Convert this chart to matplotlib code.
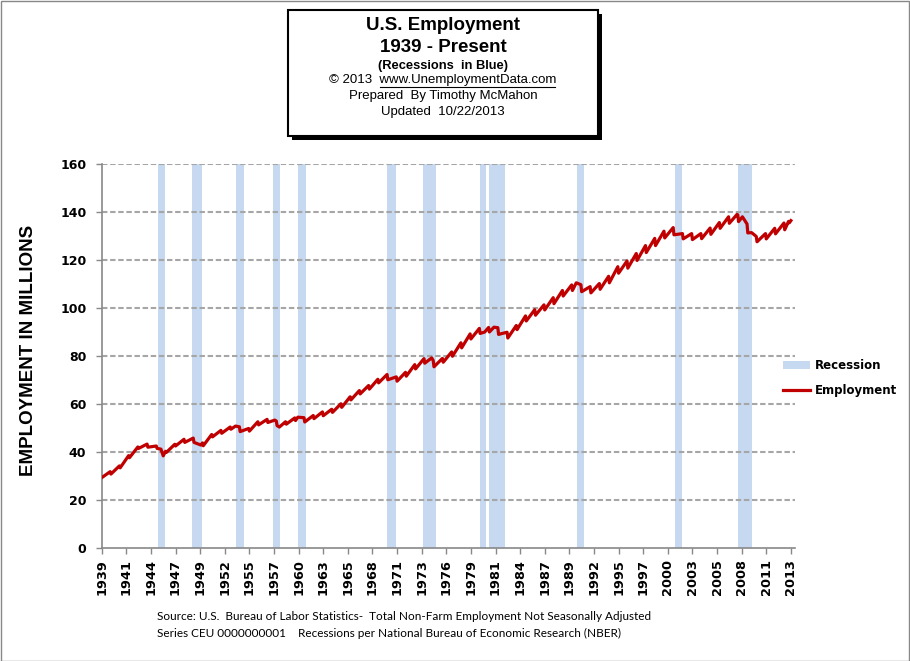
import matplotlib.pyplot as plt
from matplotlib.patches import Patch, Rectangle
from matplotlib.lines import Line2D

# Total non-farm employment, millions (not seasonally adjusted)
emp_months = [
    '1939-01', '1939-12', '1940-01', '1940-12', '1941-01', '1941-12', '1942-01', '1942-12',
    '1943-01', '1943-12', '1944-01', '1944-12', '1945-01', '1945-06', '1945-09', '1945-12',
    '1946-01', '1946-12', '1947-01', '1947-12', '1948-01', '1948-12', '1949-01', '1949-10',
    '1949-12', '1950-01', '1950-12', '1951-01', '1951-12', '1952-01', '1952-12', '1953-01',
    '1953-07', '1953-12', '1954-01', '1954-12', '1955-01', '1955-12', '1956-01', '1956-12',
    '1957-01', '1957-10', '1957-12', '1958-01', '1958-04', '1958-12', '1959-01', '1959-12',
    '1960-01', '1960-04', '1960-12', '1961-01', '1961-12', '1962-01', '1962-12', '1963-01',
    '1963-12', '1964-01', '1964-12', '1965-01', '1965-12', '1966-01', '1966-12', '1967-01',
    '1967-12', '1968-01', '1968-12', '1969-01', '1969-12', '1970-01', '1970-12', '1971-01',
    '1971-12', '1972-01', '1972-12', '1973-01', '1973-12', '1974-01', '1974-10', '1974-12',
    '1975-01', '1975-12', '1976-01', '1976-12', '1977-01', '1977-12', '1978-01', '1978-12',
    '1979-01', '1979-12', '1980-01', '1980-07', '1980-12', '1981-01', '1981-07', '1981-12',
    '1982-01', '1982-12', '1983-01', '1983-12', '1984-01', '1984-12', '1985-01', '1985-12',
    '1986-01', '1986-12', '1987-01', '1987-12', '1988-01', '1988-12', '1989-01', '1989-12',
    '1990-01', '1990-06', '1990-12', '1991-01', '1991-12', '1992-01', '1992-12', '1993-01',
    '1993-12', '1994-01', '1994-12', '1995-01', '1995-12', '1996-01', '1996-12', '1997-01',
    '1997-12', '1998-01', '1998-12', '1999-01', '1999-12', '2000-01', '2000-12', '2001-01',
    '2001-12', '2002-01', '2002-12', '2003-01', '2003-12', '2004-01', '2004-12', '2005-01',
    '2005-12', '2006-01', '2006-12', '2007-01', '2007-11', '2007-12', '2008-01', '2008-06',
    '2008-12', '2009-01', '2009-06', '2009-12', '2010-01', '2010-12', '2011-01', '2011-12',
    '2012-01', '2012-12', '2013-01', '2013-06', '2013-07', '2013-09',
]
emp_values = [
    29.3, 31.8, 30.8, 34.2, 33.4, 38.5, 37.6, 42.1,
    41.5, 43.3, 42.0, 42.5, 41.5, 41.2, 38.4, 40.3,
    39.8, 43.2, 42.5, 45.3, 44.0, 45.8, 44.0, 42.9,
    43.8, 42.6, 47.3, 46.3, 49.0, 47.8, 50.4, 49.5,
    50.8, 50.5, 48.5, 49.8, 48.7, 52.6, 51.3, 53.6,
    52.3, 53.3, 52.9, 51.0, 50.4, 52.6, 51.6, 54.2,
    53.1, 54.5, 54.3, 52.5, 55.2, 53.9, 56.7, 55.1,
    57.8, 56.5, 60.1, 58.6, 63.0, 61.7, 65.6, 64.2,
    67.7, 66.2, 70.3, 68.8, 72.3, 70.1, 71.3, 69.5,
    73.2, 71.6, 76.4, 74.6, 78.9, 77.0, 79.2, 78.1,
    75.5, 79.0, 77.4, 81.7, 79.9, 85.5, 83.4, 89.2,
    87.1, 91.5, 89.4, 90.0, 91.9, 90.0, 92.0, 91.8,
    89.0, 89.9, 87.5, 92.7, 91.0, 96.7, 94.6, 99.3,
    97.0, 101.3, 99.2, 104.3, 101.8, 107.3, 105.0, 109.6,
    107.3, 110.5, 109.7, 106.8, 108.9, 106.3, 110.2, 107.8,
    113.2, 110.5, 117.2, 114.5, 119.6, 116.6, 122.7, 119.8,
    126.0, 123.1, 129.0, 126.0, 132.0, 129.2, 133.5, 130.5,
    131.0, 128.8, 131.0, 128.5, 131.0, 128.9, 133.3, 130.7,
    135.6, 133.2, 138.0, 135.3, 139.0, 138.8, 136.0, 138.0,
    135.0, 131.3, 131.4, 129.8, 127.6, 131.0, 128.8, 133.2,
    130.9, 135.4, 132.6, 136.1, 135.5, 136.4,
]

# NBER recessions as drawn on the chart
rec_starts = ['1945-02', '1948-11', '1953-07', '1957-08', '1960-04', '1969-12',
              '1973-11', '1980-01', '1981-01', '1990-07', '2001-03', '2007-12']
rec_ends = ['1945-10', '1949-10', '1954-05', '1958-04', '1961-02', '1970-11',
            '1975-03', '1980-07', '1982-08', '1991-03', '2001-11', '2009-06']

x_tick_labels = ['1939', '1941', '1944', '1947', '1949', '1952', '1955', '1957', '1960',
                 '1963', '1965', '1968', '1971', '1973', '1976', '1979', '1981', '1984',
                 '1987', '1989', '1992', '1995', '1997', '2000', '2003', '2005', '2008',
                 '2011', '2013']
y_ticks = [0, 20, 40, 60, 80, 100, 120, 140, 160]

RED = '#C00000'
BLUE = '#C6D9F0'
GREY = '#888888'


def to_year(s, end=False):
    y, m = s.split('-')
    return int(y) + (int(m) - 1 + (1 if end else 0)) / 12.0


fig = plt.figure(figsize=(9.1, 6.61), dpi=100)
ax = fig.add_axes([101.7 / 910, 113 / 661, 693.3 / 910, 384 / 661])

for s, e in zip(rec_starts, rec_ends):
    ax.axvspan(to_year(s), to_year(e, end=True), color=BLUE, lw=0, zorder=1)

xs = [to_year(m) for m in emp_months]
ax.plot(xs, emp_values, color=RED, lw=2.3, zorder=3, solid_joinstyle='round')

ax.set_ylim(0, 160)
ax.set_xlim(1939, 1939 + 693.3 / 9.23)
ax.set_yticks(y_ticks)
ax.set_yticklabels([str(v) for v in y_ticks])
# Excel category axis: a tick every 32 months
ax.set_xticks([1939 + k * 32 / 12 for k in range(len(x_tick_labels))])
ax.set_xticklabels(x_tick_labels, rotation=90)

for v in y_ticks[1:]:
    ax.axhline(v, color='#A6A6A6', lw=1.5, linestyle=(0, (2.6, 1.3)), zorder=2)

for side in ['top', 'right']:
    ax.spines[side].set_visible(False)
for side in ['left', 'bottom']:
    ax.spines[side].set_color(GREY)
    ax.spines[side].set_linewidth(1.2)

ax.tick_params(axis='y', direction='out', length=4, width=1, color=GREY, pad=7,
               labelsize=9)
ax.tick_params(axis='x', direction='out', length=4, width=1, color=GREY, pad=4,
               labelsize=9.3)
for lab in ax.get_xticklabels() + ax.get_yticklabels():
    lab.set_fontweight('bold')
    lab.set_family('DejaVu Sans')

fig.text(29 / 910, 1 - 350 / 661, 'EMPLOYMENT IN MILLIONS', rotation=90,
         ha='center', va='center', fontsize=13.5, fontweight='bold',
         family='Liberation Sans')

# legend
handles = [Patch(facecolor=BLUE, edgecolor='none', label='Recession'),
           Line2D([], [], color=RED, lw=2.3, label='Employment')]
fig.legend(handles=handles, loc='center left', bbox_to_anchor=(772 / 910, 1 - 378 / 661),
           frameon=False, handlelength=2.3, handletextpad=0.4, labelspacing=1.0,
           prop={'family': 'DejaVu Sans', 'weight': 'bold', 'size': 8.5})

# title box with shadow
shadow = Rectangle((292 / 910, 1 - 140 / 661), 310 / 910, 126 / 661,
                   transform=fig.transFigure, facecolor='black', edgecolor='black', lw=0)
box = Rectangle((288 / 910, 1 - 136 / 661), 310 / 910, 126 / 661,
                transform=fig.transFigure, facecolor='white', edgecolor='black', lw=1.5)
fig.patches.extend([shadow, box])

cx = 443 / 910
fig.text(cx, 1 - 25 / 661, 'U.S. Employment', ha='center', va='center',
         fontsize=13.5, fontweight='bold', family='Liberation Sans')
fig.text(cx, 1 - 47 / 661, '1939 - Present', ha='center', va='center',
         fontsize=13.5, fontweight='bold', family='Liberation Sans')
fig.text(cx, 1 - 66 / 661, '(Recessions  in Blue)', ha='center', va='center',
         fontsize=9.3, fontweight='bold', family='Liberation Sans')
fig.text(cx, 1 - 80.5 / 661, '\u00a9 2013  www.UnemploymentData.com', ha='center',
         va='center', fontsize=9.5, family='Liberation Sans')
fig.add_artist(Line2D([380 / 910, 555 / 910], [1 - 86.5 / 661, 1 - 86.5 / 661],
                      color='black', lw=0.8, transform=fig.transFigure))
fig.text(cx, 1 - 96 / 661, 'Prepared  By Timothy McMahon', ha='center', va='center',
         fontsize=9.5, family='Liberation Sans')
fig.text(cx, 1 - 112 / 661, 'Updated  10/22/2013', ha='center', va='center',
         fontsize=9.5, family='Liberation Sans')

# source notes
fig.text(157 / 910, 1 - 616 / 661,
         'Source: U.S.  Bureau of Labor Statistics-  Total Non-Farm Employment Not Seasonally Adjusted',
         ha='left', va='center', fontsize=8.5, family='Lato')
fig.text(157 / 910, 1 - 633 / 661,
         'Series CEU 0000000001    Recessions per National Bureau of Economic Research (NBER)',
         ha='left', va='center', fontsize=8.5, family='Lato')

# outer chart border
fig.patches.append(Rectangle((0.5 / 910, 0.5 / 661), 908.5 / 910, 659.5 / 661,
                             transform=fig.transFigure, fill=False,
                             edgecolor=GREY, lw=1))

fig.savefig('out.png', dpi=100)
